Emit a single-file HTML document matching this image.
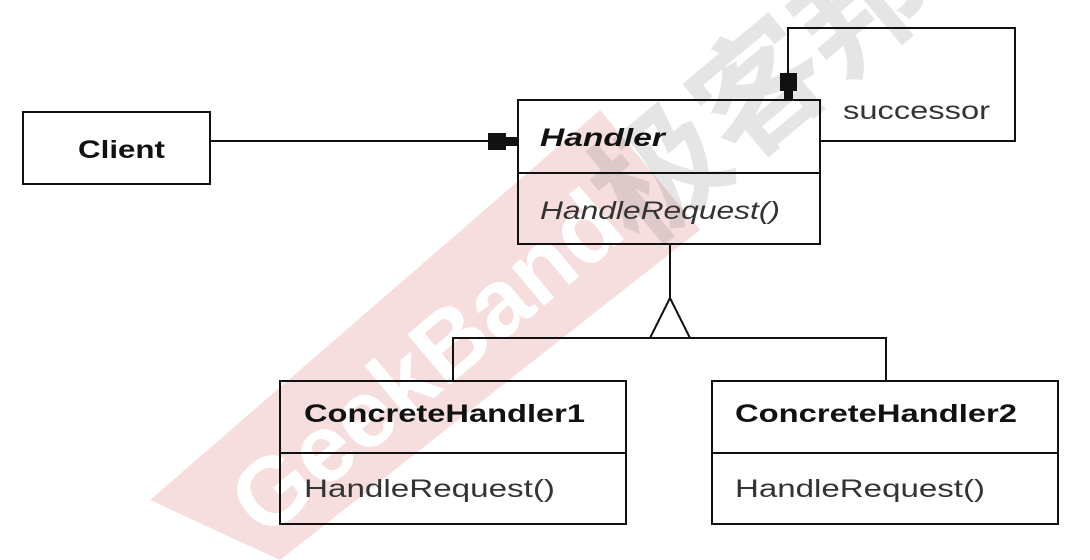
<!DOCTYPE html>
<html><head><meta charset="utf-8"><style>
html,body{margin:0;padding:0;background:#fff;width:1090px;height:560px;overflow:hidden}
svg{display:block}
text{font-family:"Liberation Sans",Arial,sans-serif;fill:#111}
</style></head><body>
<svg width="1090" height="560" viewBox="0 0 1090 560" xmlns="http://www.w3.org/2000/svg">
<polygon points="150,500 280,560 700,230 600,110" fill="#f6dede"/>
<g transform="translate(265,540) rotate(-40)">
<text x="0" y="0" font-size="96" font-weight="bold" style="fill:#fff">GeekBand</text>
</g>
<g opacity="0.15" transform="translate(640,250) rotate(-40)">
<text x="0" y="0" font-size="130" font-weight="bold" style="fill:#555;font-family:'Noto Sans CJK SC',sans-serif">极客邦</text>
</g>
<g fill="none" stroke="#111" stroke-width="2">
<rect x="23" y="112" width="187" height="72"/>
<rect x="518" y="100" width="302" height="144"/>
<line x1="518" y1="173" x2="820" y2="173"/>
<rect x="280" y="381" width="346" height="143"/>
<line x1="280" y1="453" x2="626" y2="453"/>
<rect x="712" y="381" width="346" height="143"/>
<line x1="712" y1="453" x2="1058" y2="453"/>
<line x1="210" y1="141" x2="490" y2="141"/>
<polyline points="820,141 1015,141 1015,28 788,28 788,75"/>
<line x1="670" y1="244" x2="670" y2="298"/>
<polygon points="670,298 650,338 690,338"/>
<polyline points="453,381 453,338 886,338 886,381"/>
</g>
<rect x="488" y="133" width="18" height="17" fill="#111"/>
<rect x="504" y="137" width="14" height="9" fill="#111"/>
<rect x="780" y="73" width="17" height="18" fill="#111"/>
<rect x="784" y="89" width="9" height="11" fill="#111"/>
<text x="78" y="158" font-size="25" font-weight="bold" textLength="87" lengthAdjust="spacingAndGlyphs">Client</text>
<text x="540" y="146" font-size="25" font-weight="bold" font-style="italic" textLength="125" lengthAdjust="spacingAndGlyphs">Handler</text>
<text x="540" y="219" font-size="25" font-style="italic" style="fill:#333" textLength="240" lengthAdjust="spacingAndGlyphs">HandleRequest()</text>
<text x="843" y="119" font-size="25" style="fill:#333" textLength="147" lengthAdjust="spacingAndGlyphs">successor</text>
<text x="304" y="422" font-size="25" font-weight="bold" textLength="281" lengthAdjust="spacingAndGlyphs">ConcreteHandler1</text>
<text x="304" y="497" font-size="25" style="fill:#333" textLength="251" lengthAdjust="spacingAndGlyphs">HandleRequest()</text>
<text x="735" y="422" font-size="25" font-weight="bold" textLength="282" lengthAdjust="spacingAndGlyphs">ConcreteHandler2</text>
<text x="735" y="497" font-size="25" style="fill:#333" textLength="250" lengthAdjust="spacingAndGlyphs">HandleRequest()</text>
</svg>
</body></html>
